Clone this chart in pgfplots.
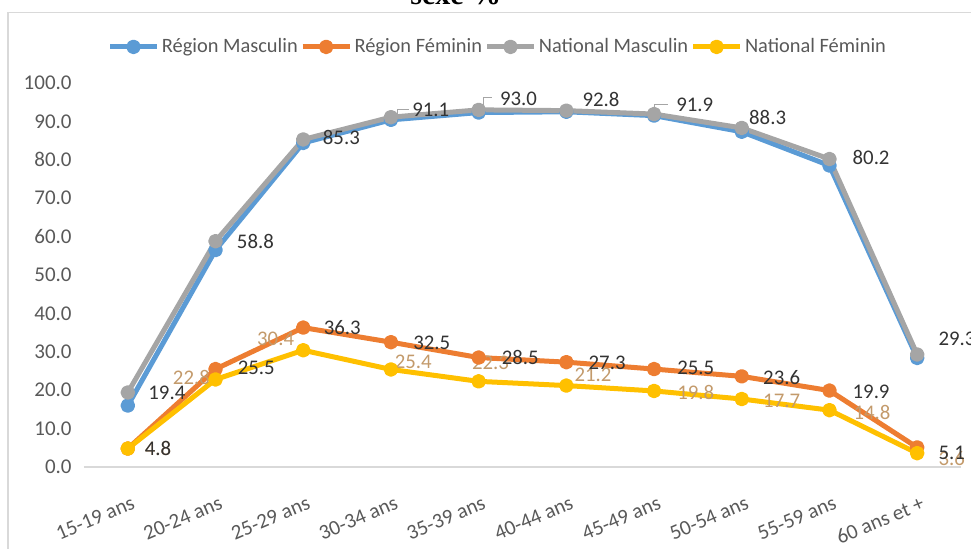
\documentclass[border=0pt]{standalone}
\usepackage{fontspec}
\setmainfont{Carlito}
\newfontfamily\titlefont{Liberation Serif}
\usepackage{pgfplots}
\pgfplotsset{compat=1.18}
\definecolor{cBlue}{HTML}{5B9BD5}
\definecolor{cOrange}{HTML}{ED7D31}
\definecolor{cGray}{HTML}{A5A5A5}
\definecolor{cYellow}{HTML}{FFC000}
\definecolor{cTick}{HTML}{595959}
\definecolor{cAxis}{HTML}{D9D9D9}
\definecolor{cLab}{HTML}{333333}
\definecolor{cTan}{HTML}{C39A6B}
\tikzset{
  lbl/.style={anchor=west, inner sep=0pt, font=\fontsize{10.4}{12}\selectfont, text=cLab},
  tlbl/.style={anchor=west, inner sep=0pt, font=\fontsize{10.4}{12}\selectfont, text=cTan},
}

\begin{document}
\begin{tikzpicture}
\useasboundingbox (0,0) rectangle (485.5pt,274.5pt);
\clip (0,0) rectangle (485.5pt,274.5pt);
\draw[cAxis, line width=0.75pt] (4pt,-5pt) rectangle (495pt,268.2pt);
\node[anchor=base west, inner sep=0pt, font=\titlefont\bfseries\fontsize{15}{18}\selectfont] at (205pt,272pt) {sexe \%};
\begin{axis}[
  at={(42pt,41pt)}, anchor=south west,
  width=438.5pt, height=192pt, scale only axis,
  xmin=-0.5, xmax=9.5, ymin=0, ymax=100,
  clip=false,
  axis x line*=bottom, axis y line*=left,
  y axis line style={draw=none},
  x axis line style={draw=cAxis, line width=0.75pt},
  major tick length=0pt,
  xtick={0,...,9},
  xticklabels={15-19 ans,20-24 ans,25-29 ans,30-34 ans,35-39 ans,40-44 ans,45-49 ans,50-54 ans,55-59 ans,60 ans et +},
  ytick={0,10,...,100},
  /pgf/number format/fixed,
  /pgf/number format/fixed zerofill,
  /pgf/number format/precision=1,
  /pgf/number format/assume math mode=true,
  yticklabel style={anchor=east, inner sep=0pt, xshift=-6pt, text=cTick, font=\fontsize{10.5}{12}\selectfont},
  xticklabel style={anchor=north east, inner sep=0pt, xshift=1.5pt, yshift=-14pt, rotate=23, text=cTick, font=\fontsize{10.5}{12}\selectfont},
  every axis plot/.append style={line width=2.5pt, line join=round, mark=*, mark size=2.4pt, mark options={line width=0.5pt}},
  legend style={draw=none, fill=none, at={(0.472,1.094)}, anchor=center, legend columns=4,
    font=\fontsize{10.2}{12}\selectfont, text=cTick,
    nodes={inner sep=1.2pt},
    /tikz/every even column/.append style={column sep=0pt}},
  legend image code/.code={\draw[#1,mark repeat=2,mark phase=2] plot coordinates {(0pt,0pt) (11.75pt,0pt) (23.5pt,0pt)};},
]
% Région Masculin
\addplot[color=cBlue, mark options={fill=cBlue}] coordinates {
  (0,16.0) (1,56.5) (2,84.4) (3,90.4) (4,92.3) (5,92.5) (6,91.5) (7,87.3) (8,78.5) (9,28.4)};
\addlegendentry{Région Masculin}
% Région Féminin
\addplot[color=cOrange, mark options={fill=cOrange}] coordinates {
  (0,4.8) (1,25.5) (2,36.3) (3,32.5) (4,28.5) (5,27.3) (6,25.5) (7,23.6) (8,19.9) (9,5.1)};
\addlegendentry{Région Féminin}
% National Masculin
\addplot[color=cGray, mark options={fill=cGray}] coordinates {
  (0,19.4) (1,58.8) (2,85.3) (3,91.1) (4,93.0) (5,92.8) (6,91.9) (7,88.3) (8,80.2) (9,29.3)};
\addlegendentry{National Masculin}
% National Féminin
\addplot[color=cYellow, mark options={fill=cYellow}] coordinates {
  (0,4.8) (1,22.8) (2,30.4) (3,25.4) (4,22.3) (5,21.2) (6,19.8) (7,17.7) (8,14.8) (9,3.6)};
\addlegendentry{National Féminin}

% leader lines
\draw[cGray, line width=0.5pt] (axis cs:3.07,91.7) -- (axis cs:3.07,93.0) -- (axis cs:3.21,93.0);
\draw[cGray, line width=0.5pt] (axis cs:4.05,93.75) -- (axis cs:4.05,96.35) -- (axis cs:4.15,96.35);
\draw[cGray, line width=0.5pt] (axis cs:6.01,92.4) -- (axis cs:6.01,94.5) -- (axis cs:6.16,94.5);

% National Féminin labels
\node[tlbl] at (axis cs:0.19,4.7) {4.8};
\node[tlbl] at (axis cs:0.51,23.2) {22.8};
\node[tlbl] at (axis cs:1.47,33.3) {30.4};
\node[tlbl] at (axis cs:3.04,27.3) {25.4};
\node[tlbl] at (axis cs:3.92,27.1) {22.3};
\node[tlbl] at (axis cs:5.09,24.0) {21.2};
\node[tlbl] at (axis cs:6.26,19.3) {19.8};
\node[tlbl] at (axis cs:7.24,17.2) {17.7};
\node[tlbl] at (axis cs:8.27,14.3) {14.8};
\node[tlbl] at (axis cs:9.24,2.1) {3.6};

% Région Féminin labels
\node[lbl] at (axis cs:0.19,4.7) {4.8};
\node[lbl] at (axis cs:1.25,25.8) {25.5};
\node[lbl] at (axis cs:2.23,36.2) {36.3};
\node[lbl] at (axis cs:3.25,32.3) {32.5};
\node[lbl] at (axis cs:4.26,28.6) {28.5};
\node[lbl] at (axis cs:5.25,27.1) {27.3};
\node[lbl] at (axis cs:6.26,25.8) {25.5};
\node[lbl] at (axis cs:7.24,23.4) {23.6};
\node[lbl] at (axis cs:8.26,19.5) {19.9};
\node[lbl] at (axis cs:9.24,3.6) {5.1};

% National Masculin labels
\node[lbl] at (axis cs:0.23,19.3) {19.4};
\node[lbl] at (axis cs:1.24,58.6) {58.8};
\node[lbl] at (axis cs:2.22,85.7) {85.3};
\node[lbl] at (axis cs:3.24,93.0) {91.1};
\node[lbl] at (axis cs:4.24,95.8) {93.0};
\node[lbl] at (axis cs:5.18,95.8) {92.8};
\node[lbl] at (axis cs:6.25,94.3) {91.9};
\node[lbl] at (axis cs:7.08,91.1) {88.3};
\node[lbl] at (axis cs:8.26,80.5) {80.2};
\node[lbl] at (axis cs:9.24,33.3) {29.3};
\end{axis}
\end{tikzpicture}
\end{document}
